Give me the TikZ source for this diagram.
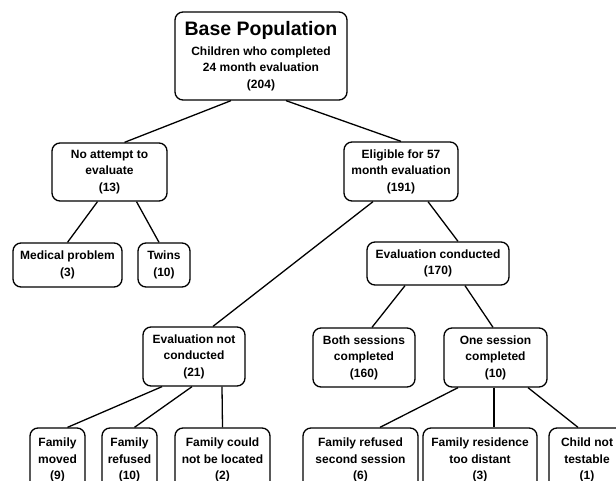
\documentclass[tikz,border=0pt]{standalone}
\usepackage{fontspec}
\setmainfont{Liberation Sans}
\begin{document}
\begin{tikzpicture}[x=1pt,y=-1pt,
  box/.style={draw, rounded corners=8pt, line width=1.3pt, align=center, inner sep=0pt,
    font=\bfseries\fontsize{12}{16.5}\selectfont},
  link/.style={line width=1.3pt}]
\useasboundingbox (0,0) rectangle (616,481);
\clip (0,0) rectangle (616,481);
% level 0
\node[box, minimum width=172pt, minimum height=88pt] (root) at (261,56)
  {{\fontsize{19.5}{22}\selectfont Base Population}\\[3pt]Children who completed\\24 month evaluation\\(204)};
% level 1
\node[box, minimum width=115pt, minimum height=58pt] (noatt) at (109.5,172) {No attempt to\\evaluate\\(13)};
\node[box, minimum width=114pt, minimum height=59pt] (elig) at (401,171.5) {Eligible for 57\\month evaluation\\(191)};
% level 2
\node[box, minimum width=109pt, minimum height=44pt] (med) at (67.5,265) {Medical problem\\(3)};
\node[box, minimum width=52pt, minimum height=44pt] (twins) at (164,265) {Twins\\(10)};
\node[box, minimum width=142pt, minimum height=43pt] (econd) at (438,263.5) {Evaluation conducted\\(170)};
% level 3
\node[box, minimum width=102pt, minimum height=59pt] (enot) at (194,356.5) {Evaluation not\\conducted\\(21)};
\node[box, minimum width=102pt, minimum height=59pt] (both) at (364,357.5) {Both sessions\\completed\\(160)};
\node[box, minimum width=103pt, minimum height=59pt] (one) at (495.5,357.5) {One session\\completed\\(10)};
% level 4
\node[box, minimum width=55pt, minimum height=64pt] (moved) at (57.5,460) {Family\\moved\\(9)};
\node[box, minimum width=55pt, minimum height=64pt] (refused) at (129.5,460) {Family\\refused\\(10)};
\node[box, minimum width=95pt, minimum height=64pt] (located) at (222.5,460) {Family could\\not be located\\(2)};
\node[box, minimum width=115pt, minimum height=64pt] (ref2) at (360.5,460) {Family refused\\second session\\(6)};
\node[box, minimum width=114pt, minimum height=64pt] (resid) at (480,460) {Family residence\\too distant\\(3)};
\node[box, minimum width=76pt, minimum height=64pt] (child) at (587,460) {Child not\\testable\\(1)};
% connectors
\draw[link] ([xshift=-30pt]root.south) -- ([xshift=15pt]noatt.north);
\draw[link] ([xshift=25pt]root.south) -- (elig.north);
\draw[link] ([xshift=-12pt]noatt.south) -- (med.north);
\draw[link] ([xshift=27pt]noatt.south) -- ([xshift=-5pt]twins.north);
\draw[link] ([xshift=-28pt]elig.south) -- ([xshift=19pt]enot.north);
\draw[link] ([xshift=27pt]elig.south) -- ([xshift=20pt]econd.north);
\draw[link] ([xshift=-33pt]econd.south) -- ([xshift=8pt]both.north);
\draw[link] ([xshift=27pt]econd.south) -- ([xshift=-2.5pt]one.north);
\draw[link] ([xshift=-32pt]enot.south) -- ([xshift=10pt]moved.north);
\draw[link] ([xshift=-2pt]enot.south) -- ([xshift=5pt]refused.north);
\draw[link] ([xshift=28pt]enot.south) -- (located.north);
\draw[link] ([xshift=-37.5pt]one.south) -- ([xshift=19.5pt]ref2.north);
\draw[link] ([xshift=-1.5pt]one.south) -- ([xshift=14pt]resid.north);
\draw[link] ([xshift=32.5pt]one.south) -- ([xshift=-9pt]child.north);
\end{tikzpicture}
\end{document}
